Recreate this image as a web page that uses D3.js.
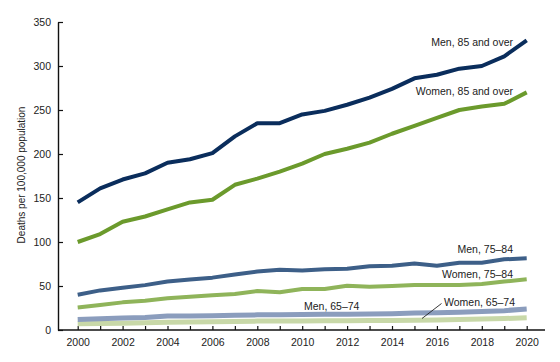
<!DOCTYPE html>
<html><head><meta charset="utf-8">
<script src="https://cdn.jsdelivr.net/npm/d3@7"></script>
<style>
body{margin:0;background:#fff;}
svg{font-family:"Liberation Sans",Arial,sans-serif;}
</style></head>
<body><svg id="c" width="560" height="362"></svg>
<script>
const years = d3.range(2000, 2021);
const yTicks = [0,50,100,150,200,250,300,350];
const xTickLabels = [2000,2002,2004,2006,2008,2010,2012,2014,2016,2018,2020];
const seriesNames = ["Men, 85 and over","Women, 85 and over","Men, 75–84","Women, 75–84","Men, 65–74","Women, 65–74"];
const men85 = [145,161,171,178,190,194,201,220,235,235,245,249,256,264,274,286,290,297,300,311,329];
const women85 = [100,109,123,129,137,145,148,165,172,180,189,200,206,213,223,232,241,250,254,257,270];
const men75 = [40,45,48,51,55,57.5,59.5,63,66.5,68.5,67.5,69,69.5,72.5,73,75.5,73,76.5,76.5,80.3,81.4];
const women75 = [25.5,28.4,31.4,33.3,36,37.9,39.4,41,44.3,42.8,46.6,46.6,50.4,49.2,50,51.1,51,51,52.3,55,57.6];
const men65 = [11.8,12.8,13.6,14.2,15.8,16,16.3,16.8,17.2,17.4,17.5,17.8,18,18.3,18.6,19.2,19.6,20.3,21,22,23.8];
const women65 = [7,7.4,7.8,8.3,8.8,9.2,9.5,9.8,10.1,10.2,10.3,10.5,10.6,10.7,10.8,11,11.4,11.9,12.4,13,14];

const svg = d3.select("#c");
const x = d3.scaleLinear().domain([2000,2020]).range([77.7,526.7]);
const y = d3.scaleLinear().domain([0,350]).range([330,22]);
const txt = "#222";

// y axis
const ya = svg.append("g").attr("transform","translate(58,0)")
  .call(d3.axisLeft(y).tickValues(yTicks).tickSizeInner(-5).tickSizeOuter(0).tickPadding(7));
ya.select(".domain").attr("stroke","#111").attr("stroke-width",1.4);
ya.selectAll(".tick line").attr("stroke","#111").attr("stroke-width",1.2);
ya.selectAll("text").attr("font-size",10.5).attr("fill",txt).attr("font-family","Liberation Sans, Arial, sans-serif");

// x axis
const xa = svg.append("g").attr("transform","translate(0,330)")
  .call(d3.axisBottom(x).tickValues(years).tickSizeInner(-4).tickSizeOuter(0).tickPadding(9)
    .tickFormat(d => xTickLabels.includes(d) ? String(d) : ""));
xa.select(".domain").remove();
xa.append("line").attr("x1",58).attr("x2",545).attr("stroke","#111").attr("stroke-width",1.4);
xa.selectAll(".tick line").attr("stroke","#111").attr("stroke-width",1.2);
xa.selectAll("text").attr("font-size",10.5).attr("fill",txt).attr("font-family","Liberation Sans, Arial, sans-serif");

// y label
svg.append("text").attr("transform","translate(25,175) rotate(-90)")
  .attr("text-anchor","middle").attr("font-size",10).attr("fill",txt)
  .text("Deaths per 100,000 population");

const data = [men85, women85, men75, women75, men65, women65];
const colors = ["#0a2d5c","#6b9a2c","#3d5f88","#8fb45a","#8b9dbd","#c8d8a8"];
const widths = [4,4,4,4,5,5];
const line = d3.line().x((d,i)=>x(years[i])).y(d=>y(d));
[5,4,3,2,1,0].forEach(k=>{
  svg.append("path").datum(data[k]).attr("d",line).attr("fill","none")
    .attr("stroke",colors[k]).attr("stroke-width",widths[k]).attr("stroke-linejoin","round");
});

// labels
const lab = [
  {t:seriesNames[0], x:513, y:42.5, a:"end"},
  {t:seriesNames[1], x:513, y:91, a:"end"},
  {t:seriesNames[2], x:513, y:249, a:"end"},
  {t:seriesNames[3], x:513, y:274.5, a:"end"},
  {t:seriesNames[4], x:304, y:306, a:"start"},
  {t:seriesNames[5], x:444, y:302.5, a:"start"}
];
lab.forEach(l=>{
  svg.append("text").attr("x",l.x).attr("y",l.y).attr("dy","0.35em")
    .attr("text-anchor",l.a).attr("font-size",10.5).attr("fill",txt).text(l.t);
});
svg.append("line").attr("x1",441.5).attr("y1",303.5).attr("x2",422).attr("y2",318.5)
  .attr("stroke","#222").attr("stroke-width",0.9);
</script></body></html>
